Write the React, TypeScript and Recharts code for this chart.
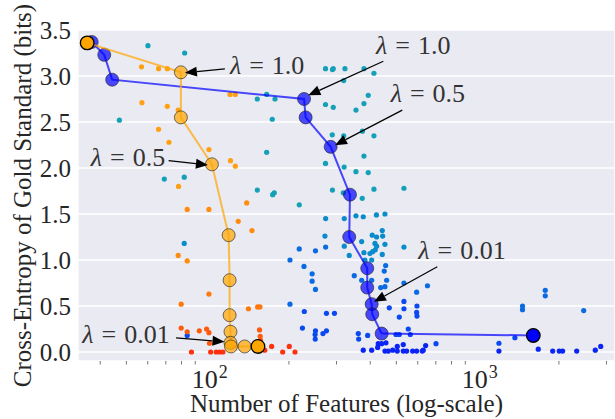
import { ScatterChart, Scatter, XAxis, YAxis, CartesianGrid } from 'recharts';

const FONT = '"Liberation Serif", "DejaVu Serif", serif';
const INK = '#262626';

// [number of features, cross-entropy in bits]
const orangeHigh = [
  [56.9, 3.1], [65.8, 3.08], [70.9, 3.08], [57.1, 2.71], [70.9, 2.67], [77.8, 2.63], [65.8, 2.42],
  [71.9, 2.28], [101.1, 2.2], [121.5, 2.08], [126.6, 2.02], [78.0, 1.8], [121, 2.8], [126.6, 2.8],
];
const orangeMid = [
  [139.5, 1.62], [129.8, 1.42], [145.9, 1.32], [84.0, 1.55], [101.1, 1.55], [77.8, 1.05], [84.0, 0.99],
];
const orangeLow = [[101.1, 0.63], [79.8, 0.52], [141.6, 0.47], [153.2, 0.49], [156.2, 0.49]];
const orangeRed = [
  [79.8, 0.26], [84.0, 0.22], [93.1, 0.23], [99.1, 0.25], [101.1, 0.21], [155.6, 0.24], [156.5, 0.17],
  [156.9, 0.13], [101.6, 0.095],
];
const redZero = [
  [87.1, 0.0], [102.6, 0.0], [107.6, 0.0], [110.8, 0.0], [113.9, 0.0], [162.7, 0.02], [172.6, 0.06],
  [189.6, 0.0], [200.6, 0.06], [210.6, 0.0],
];

const teal = [
  [60.1, 3.33], [82.2, 3.25], [47.1, 2.52], [69.1, 1.88], [81.9, 1.9], [152.7, 1.76], [176.5, 1.73],
  [174.1, 1.71], [165.4, 2.17], [173.5, 2.53], [152.7, 2.75], [165.4, 2.8], [177.6, 2.75],
  [273.2, 3.08], [289.9, 3.07], [291.9, 3.08], [322.5, 3.08], [379.2, 3.08], [412.9, 3.03], [319, 2.95],
  [393.3, 2.79], [379.2, 2.7], [354.2, 2.63], [273.2, 2.69], [291.9, 2.66], [289.4, 2.36], [319, 2.35],
  [374.4, 2.4], [412.9, 2.35], [379.2, 2.13], [273.2, 2.05], [320.3, 2.01], [354.2, 1.96], [393.3, 1.95],
  [289.9, 1.76], [317.8, 1.73], [373.8, 1.67], [412.9, 1.77], [533.3, 1.78], [218.4, 1.6],
];
const cyan = [
  [81.9, 1.18], [273.5, 1.45], [320.6, 1.45], [354.2, 1.48], [377, 1.47], [421.8, 1.49], [453.6, 1.5],
  [271.9, 1.26], [320.6, 1.15], [371.9, 1.2], [407, 1.27], [422.5, 1.25], [443.3, 1.32], [444.8, 1.26],
  [416.5, 1.18], [422.5, 1.15], [417.6, 1.11], [453.6, 1.17], [533.3, 1.14], [379.2, 1.08], [399.1, 1.07],
  [408.3, 1.09], [443.3, 1.06], [405, 1.0], [382.4, 1.0], [334.5, 1.05],
];
const blueMid = [
  [218.4, 1.12], [250.8, 1.1], [273.5, 1.14], [201.8, 1.0], [227.4, 0.93], [243.8, 0.85], [243.8, 0.77],
  [250.8, 0.68], [456.3, 0.94], [450.9, 0.88], [349.1, 0.83], [371.9, 0.78], [405, 0.78], [437.2, 0.7],
  [453.6, 0.71], [460.2, 0.78], [533.3, 0.75], [651.8, 0.72], [594.4, 0.65], [201.8, 0.52], [1780, 0.67],
  [1780, 0.61], [1466, 0.5], [1466, 0.46], [2470, 0.45],
];
const blueLow = [
  [228, 0.44], [275.4, 0.42], [294.9, 0.42], [470.7, 0.48], [533.3, 0.55], [533.3, 0.47], [596, 0.5],
  [594.4, 0.43], [596, 0.39], [512.5, 0.38], [224.4, 0.26], [250.8, 0.23], [250, 0.19], [250.3, 0.14],
  [267.3, 0.2], [275.4, 0.23], [361.3, 0.2], [362.5, 0.14], [391.4, 0.18], [498.3, 0.19], [512.5, 0.19],
  [563, 0.19], [553.4, 0.25], [701, 0.09], [1199, 0.095], [1374, 0.155], [84.0, 0.18],
];
const blueZero = [
  [377, 0.02], [405, 0.02], [428.4, 0.09], [426.2, 0.05], [441, 0.09], [457.5, 0.1], [453.6, 0.01],
  [466.6, 0.01], [484.4, 0.02], [503.8, 0.06], [503.8, 0.01], [530.3, 0.08], [530.3, 0.01], [545.8, 0.01],
  [574.4, 0.01], [594.4, 0.01], [623.4, 0.01], [641.8, 0.07], [628.7, 0.02], [1199, 0.01], [1677, 0.03],
  [1896, 0.01], [2005, 0.01], [2064, 0.01], [2327, 0.01], [2727, 0.02], [2856, 0.06],
];

// selected paths (one point per lambda)
const orangePath = [
  [35.8, 3.36], [79.6, 3.04], [79.6, 2.55], [103.7, 2.04], [119.6, 1.27], [120.6, 0.78], [120.6, 0.4],
  [121.5, 0.22], [121.5, 0.1], [122, 0.06], [137.1, 0.06], [153.6, 0.06],
];
const bluePath = [
  [37.2, 3.37], [41.4, 3.23], [44.3, 2.96], [227.5, 2.75], [230.6, 2.55], [285.5, 2.23], [336.6, 1.71],
  [334.5, 1.25], [390, 0.91], [390, 0.7], [405, 0.52], [407, 0.41], [441, 0.2], [1607, 0.18],
];

const orangeNotes = [
  { lam: '1.0', x: 79.6, y: 3.04 },
  { lam: '0.5', x: 103.7, y: 2.04 },
  { lam: '0.01', x: 121.5, y: 0.1 },
];
const blueNotes = [
  { lam: '1.0', x: 227.5, y: 2.75 },
  { lam: '0.5', x: 285.5, y: 2.23 },
  { lam: '0.01', x: 405, y: 0.52 },
];

const xMajor = [100, 1000];
const xMinor = [40, 50, 60, 70, 80, 90, 200, 300, 400, 500, 600, 700, 800, 900, 2000, 3000];
const yTicks = [0, 0.5, 1, 1.5, 2, 2.5, 3, 3.5];
const xDomain = [33.1, 3226];
const yDomain = [-0.098, 3.5];

const pts = (arr: number[][]) => arr.map(([x, y]) => ({ x, y }));

// text/arrow offsets from the target point, in px
const orangeLayout = [
  { anchor: 'start', text: [49, 2], tail: [44, -3.5], tip: [4, 0.5] },
  { anchor: 'end', text: [-46.7, 2], tail: [-43.3, -3.6], tip: [-4, 0.7] },
  { anchor: 'end', text: [-60.7, 0], tail: [-54.4, -5], tip: [-6, -1] },
];
const blueLayout = [
  { anchor: 'start', text: [72, -44.7], tail: [79.3, -37.7], tip: [4.3, -3.7] },
  { anchor: 'start', text: [60, -45], tail: [71.6, -36.7], tip: [4.3, -1.7] },
  { anchor: 'start', text: [46.6, -45], tail: [65.6, -37.3], tip: [2.3, -2.3] },
];

const dot = (color: string) => (p: any) => <circle cx={p.cx} cy={p.cy} r={2.6} fill={color} />;

const pathDot = (fill: string) => (p: any) => (
  <circle cx={p.cx} cy={p.cy} r={6.5} fill={fill} stroke="rgba(40,40,40,0.65)" strokeWidth={1} />
);

const endDot = (fill: string) => (p: any) => (
  <circle cx={p.cx} cy={p.cy} r={6.8} fill={fill} stroke="#000" strokeWidth={1.3} />
);

function Arrow({ x1, y1, x2, y2 }: { x1: number; y1: number; x2: number; y2: number }) {
  const len = Math.hypot(x2 - x1, y2 - y1);
  const ux = (x2 - x1) / len;
  const uy = (y2 - y1) / len;
  const hl = 12;
  const hw = 5;
  const bx = x2 - ux * hl;
  const by = y2 - uy * hl;
  return (
    <g>
      <line x1={x1} y1={y1} x2={bx} y2={by} stroke="#000" strokeWidth={1.2} />
      <polygon
        points={`${x2},${y2} ${bx - uy * hw},${by + ux * hw} ${bx + uy * hw},${by - ux * hw}`}
        fill="#000"
      />
    </g>
  );
}

const note = (lam: string, layout: any) => (p: any) => {
  const { cx, cy } = p;
  return (
    <g>
      <Arrow x1={cx + layout.tail[0]} y1={cy + layout.tail[1]} x2={cx + layout.tip[0]} y2={cy + layout.tip[1]} />
      <text
        x={cx + layout.text[0]}
        y={cy + layout.text[1]}
        textAnchor={layout.anchor}
        fontSize={26}
        fontFamily={FONT}
        fill="#333"
      >
        <tspan fontStyle="italic">λ</tspan>
        <tspan dx={8}>=</tspan>
        <tspan dx={8}>{lam}</tspan>
      </text>
    </g>
  );
};

const renderXTick = (p: any) => {
  const v = p.payload.value;
  if (xMajor.includes(v)) {
    return (
      <text x={p.x - 16} y={p.y + 26.5} fontSize={26} fontFamily={FONT} fill={INK}>
        10
        <tspan dx={1} dy={-10} fontSize={18}>
          {String(Math.round(Math.log10(v)))}
        </tspan>
      </text>
    );
  }
  return <line x1={p.x} y1={p.y} x2={p.x} y2={p.y + 3.5} stroke="#555" strokeWidth={0.8} />;
};

const renderTopTick = (p: any) => (
  <line x1={p.x} y1={p.y} x2={p.x} y2={p.y - 3.5} stroke="#555" strokeWidth={0.8} />
);

export default function App() {
  return (
    <div style={{ position: 'absolute', left: 0, top: 0, width: 615, height: 419, background: '#fff' }}>
      <ScatterChart width={615} height={419} margin={{ top: 30, right: 0, bottom: 0, left: 0 }}>
        <CartesianGrid xAxisId="grid" fill="#eaeaf2" stroke="#ffffff" strokeWidth={1.4} />
        <XAxis
          xAxisId="x"
          type="number"
          dataKey="x"
          scale="log"
          domain={xDomain}
          ticks={[...xMinor, ...xMajor]}
          interval={0}
          tickLine={false}
          axisLine={false}
          tickSize={0}
          tickMargin={0}
          height={58}
          tick={renderXTick}
          label={{
            value: 'Number of Features (log-scale)',
            position: 'insideBottom',
            offset: 7,
            fill: INK,
            fontSize: 25,
            fontFamily: FONT,
          }}
        />
        <XAxis
          xAxisId="grid"
          orientation="top"
          type="number"
          scale="log"
          domain={xDomain}
          ticks={xMajor}
          height={0}
          hide
          allowDataOverflow
        />
        <XAxis
          xAxisId="top"
          orientation="top"
          type="number"
          scale="log"
          domain={xDomain}
          ticks={xMinor}
          interval={0}
          height={0}
          tickLine={false}
          axisLine={false}
          tickSize={0}
          tickMargin={0}
          tick={renderTopTick}
          allowDataOverflow
        />
        <YAxis
          type="number"
          dataKey="y"
          domain={yDomain}
          ticks={yTicks}
          interval={0}
          width={78}
          tickLine={false}
          axisLine={false}
          tickSize={0}
          tickMargin={7}
          tickFormatter={(v: number) => v.toFixed(1)}
          tick={{ fill: INK, fontSize: 25, fontFamily: FONT }}
          label={{
            value: 'Cross-Entropy of Gold Standard (bits)',
            angle: -90,
            position: 'insideLeft',
            offset: 22,
            fill: INK,
            fontSize: 25,
            fontFamily: FONT,
            style: { textAnchor: 'middle' },
          }}
        />

        <Scatter xAxisId="x" data={pts(teal)} shape={dot('#14a0b6')} isAnimationActive={false} />
        <Scatter xAxisId="x" data={pts(cyan)} shape={dot('#0a8ccc')} isAnimationActive={false} />
        <Scatter xAxisId="x" data={pts(blueMid)} shape={dot('#0a6ae2')} isAnimationActive={false} />
        <Scatter xAxisId="x" data={pts(blueLow)} shape={dot('#0a48f0')} isAnimationActive={false} />
        <Scatter xAxisId="x" data={pts(blueZero)} shape={dot('#0a24f6')} isAnimationActive={false} />
        <Scatter xAxisId="x" data={pts(orangeHigh)} shape={dot('#ffa012')} isAnimationActive={false} />
        <Scatter xAxisId="x" data={pts(orangeMid)} shape={dot('#ff8c0c')} isAnimationActive={false} />
        <Scatter xAxisId="x" data={pts(orangeLow)} shape={dot('#ff780c')} isAnimationActive={false} />
        <Scatter xAxisId="x" data={pts(orangeRed)} shape={dot('#ff5a0c')} isAnimationActive={false} />
        <Scatter xAxisId="x" data={pts(redZero)} shape={dot('#ff300c')} isAnimationActive={false} />

        <Scatter
          xAxisId="x"
          data={pts(bluePath.slice(0, -1))}
          line={{ stroke: 'rgba(0,0,255,0.7)', strokeWidth: 2 }}
          lineType="joint"
          shape={pathDot('rgba(0,0,255,0.7)')}
          isAnimationActive={false}
        />
        <Scatter
          xAxisId="x"
          data={pts(bluePath.slice(-2))}
          line={{ stroke: 'rgba(0,0,255,0.7)', strokeWidth: 2 }}
          lineType="joint"
          shape={(p: any) => (p.index === 1 ? endDot('#0000ff')(p) : <g />)}
          isAnimationActive={false}
        />
        <Scatter
          xAxisId="x"
          data={pts(orangePath)}
          line={{ stroke: 'rgba(255,165,0,0.7)', strokeWidth: 2 }}
          lineType="joint"
          shape={(p: any) =>
            p.index === 0 || p.index === orangePath.length - 1
              ? endDot('#ffa500')(p)
              : pathDot('rgba(255,165,0,0.7)')(p)
          }
          isAnimationActive={false}
        />

        {orangeNotes.map((n, i) => (
          <Scatter
            key={'o' + i}
            xAxisId="x"
            data={[{ x: n.x, y: n.y }]}
            shape={note(n.lam, orangeLayout[i])}
            isAnimationActive={false}
          />
        ))}
        {blueNotes.map((n, i) => (
          <Scatter
            key={'b' + i}
            xAxisId="x"
            data={[{ x: n.x, y: n.y }]}
            shape={note(n.lam, blueLayout[i])}
            isAnimationActive={false}
          />
        ))}
      </ScatterChart>
    </div>
  );
}
